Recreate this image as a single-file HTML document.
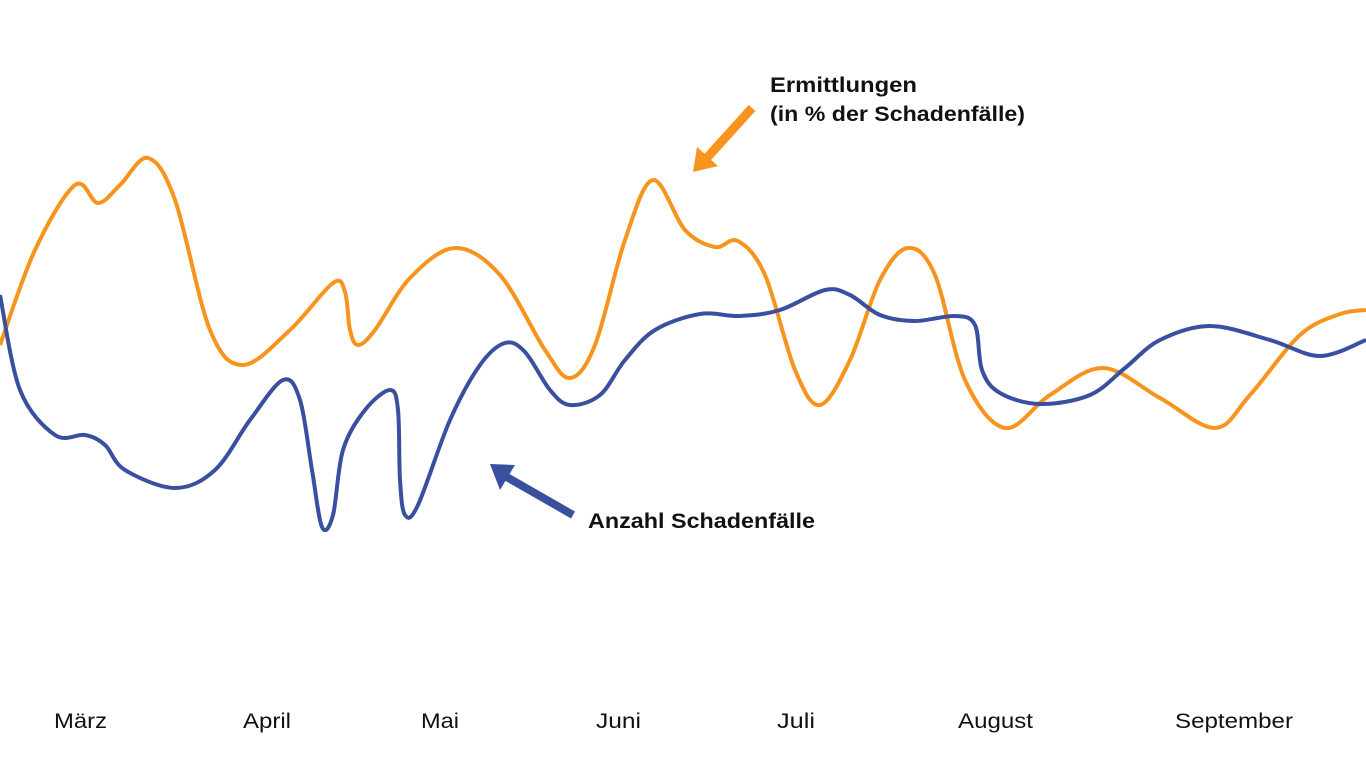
<!DOCTYPE html>
<html><head><meta charset="utf-8"><style>
html,body{margin:0;padding:0;background:#fff;width:1366px;height:768px;overflow:hidden}
svg{display:block}
text{font-family:"Liberation Sans",sans-serif}
</style></head><body>
<svg id="s" width="1366" height="768" viewBox="0 0 1366 768">
<path id="o" fill="none" stroke="#F7941D" stroke-width="4"/>
<path id="b" fill="none" stroke="#3A4FA0" stroke-width="4"/>
<line x1="752" y1="108" x2="705" y2="160" stroke="#F7941D" stroke-width="9"/>
<polygon points="693,172 697,147 718,166" fill="#F7941D"/>
<line x1="573" y1="515" x2="505" y2="476" stroke="#3A4FA0" stroke-width="8"/>
<polygon points="490,464 515,465 500,490" fill="#3A4FA0"/>
<text x="770" y="92" font-size="21" font-weight="bold" fill="#111" textLength="147" lengthAdjust="spacingAndGlyphs">Ermittlungen</text>
<text x="770" y="121" font-size="21" font-weight="bold" fill="#111" textLength="255" lengthAdjust="spacingAndGlyphs">(in % der Schadenfälle)</text>
<text x="588" y="528" font-size="21" font-weight="bold" fill="#111" textLength="227" lengthAdjust="spacingAndGlyphs">Anzahl Schadenfälle</text>
<g font-size="21" fill="#111">
<text x="54" y="728" textLength="53" lengthAdjust="spacingAndGlyphs">März</text>
<text x="243" y="728" textLength="48" lengthAdjust="spacingAndGlyphs">April</text>
<text x="421" y="728" textLength="38" lengthAdjust="spacingAndGlyphs">Mai</text>
<text x="596" y="728" textLength="45" lengthAdjust="spacingAndGlyphs">Juni</text>
<text x="777" y="728" textLength="38" lengthAdjust="spacingAndGlyphs">Juli</text>
<text x="958" y="728" textLength="75" lengthAdjust="spacingAndGlyphs">August</text>
<text x="1175" y="728" textLength="118" lengthAdjust="spacingAndGlyphs">September</text></g>
</svg>
<script>
function cr(p){let d="M"+p[0][0]+","+p[0][1];for(let i=0;i<p.length-1;i++){const a=p[i-1]||p[i],b=p[i],c=p[i+1],e=p[i+2]||c;
d+=" C"+(b[0]+(c[0]-a[0])/6)+","+(b[1]+(c[1]-a[1])/6)+" "+(c[0]-(e[0]-b[0])/6)+","+(c[1]-(e[1]-b[1])/6)+" "+c[0]+","+c[1];}return d;}
const o=[[0,345],[35,250],[75,185],[98,203],[120,185],[148,158],[175,200],[210,330],[243,365],[290,330],[333,283],[345,292],[350,330],[358,345],[375,330],[410,278],[455,248],[500,275],[545,350],[570,378],[595,345],[625,240],[653,180],[685,230],[715,247],[738,241],[765,275],[795,370],[820,405],[850,360],[880,280],[908,248],[935,275],[965,380],[1005,428],[1050,395],[1103,368],[1160,398],[1215,428],[1250,395],[1300,335],[1340,314],[1366,310]];
const b=[[0,295],[20,390],[55,435],[85,435],[105,445],[125,470],[175,488],[215,470],[250,420],[283,380],[300,400],[312,470],[322,527],[333,515],[343,450],[365,410],[390,390],[398,410],[400,480],[405,515],[418,505],[450,420],[480,365],[505,343],[525,352],[550,390],[570,405],[600,395],[625,360],[655,330],[700,314],[740,316],[780,310],[825,290],[850,295],[880,315],[915,321],[955,316],[975,325],[982,370],[1000,393],[1040,404],[1090,395],[1125,368],[1160,340],[1210,326],[1270,340],[1320,356],[1366,340]];
document.getElementById("o").setAttribute("d",cr(o));
document.getElementById("b").setAttribute("d",cr(b));
</script>
</body></html>
